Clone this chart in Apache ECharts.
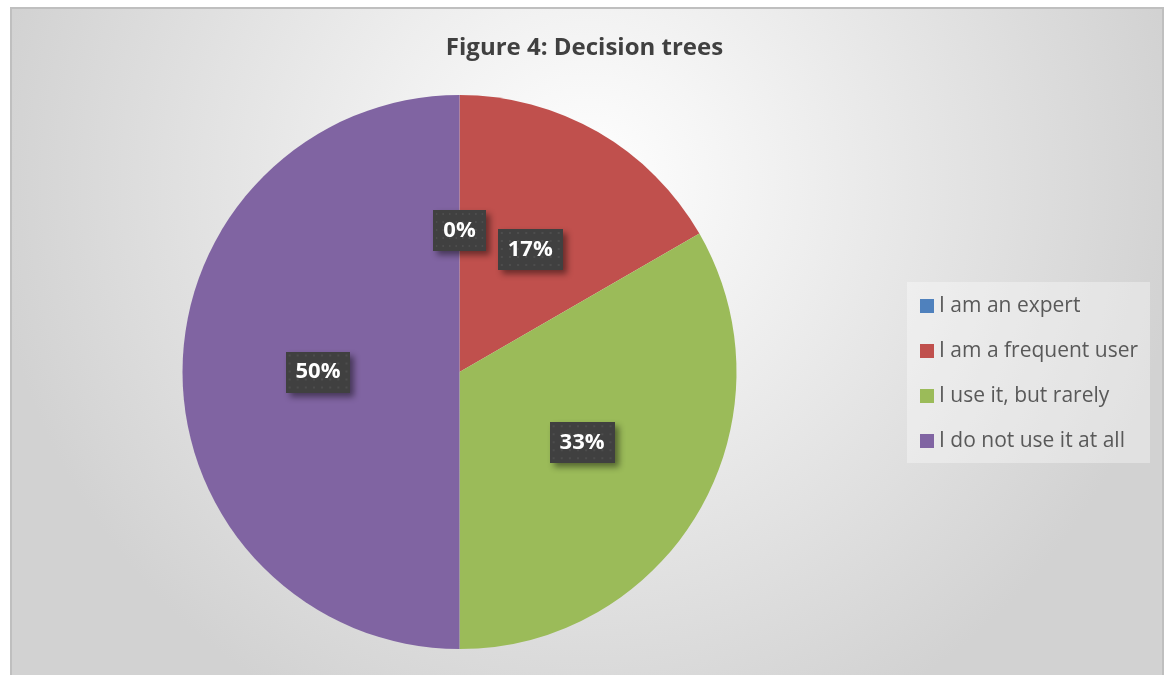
<!DOCTYPE html>
<html>
<head>
<meta charset="utf-8">
<script src="https://cdn.jsdelivr.net/npm/echarts@6/dist/echarts.min.js"></script>
<style>
  html, body { margin: 0; padding: 0; background: #fff; overflow: hidden; }
  #chart { width: 1169px; height: 675px; }
</style>
</head>
<body>
<div id="chart"></div>
<script>
// 饼图：Figure 4 Decision trees
const titleText = 'Figure 4: Decision trees'
const categories = ['I am an expert', 'I am a frequent user', 'I use it, but rarely', 'I do not use it at all']
const counts = [0, 1, 2, 3]
const colors = ['#4F81BD', '#C0504D', '#9BBB59', '#8064A2']

// 标签背景的小点纹理
const makeDots = () => {
  const c = document.createElement('canvas')
  c.width = 64
  c.height = 41
  const ctx = c.getContext('2d')
  ctx.fillStyle = '#404040'
  ctx.fillRect(0, 0, 64, 41)
  ctx.fillStyle = '#4d4d4d'
  for (let y = 3; y < 41; y += 8) {
    for (let x = 3; x < 64; x += 8) {
      ctx.fillRect(x, y, 2, 2)
    }
  }
  return c
}

const chart = echarts.init(document.getElementById('chart'))

const option = {
  animation: false,
  color: colors,
  graphic: [
    {
      type: 'rect',
      z: -10,
      silent: true,
      shape: { x: 11, y: 8, width: 1152, height: 700 },
      style: {
        fill: new echarts.graphic.RadialGradient(0.5, 0.25, 0.85, [
          { offset: 0, color: '#ffffff' },
          { offset: 1, color: '#d2d2d2' }
        ]),
        stroke: '#bfbfbf',
        lineWidth: 2
      }
    }
  ],
  title: {
    text: titleText,
    left: 'center',
    top: 31,
    textStyle: {
      fontFamily: 'Open Sans',
      fontSize: 24,
      fontWeight: 'bold',
      color: '#404040'
    }
  },
  legend: {
    orient: 'vertical',
    left: 907,
    top: 282,
    data: categories,
    icon: 'rect',
    itemWidth: 14,
    itemHeight: 14,
    itemGap: 21,
    itemTextGap: 6,
    padding: [12, 12, 10, 13],
    backgroundColor: 'rgba(255,255,255,0.35)',
    textStyle: {
      fontFamily: 'Open Sans',
      fontSize: 21,
      lineHeight: 24,
      color: '#595959'
    }
  },
  series: [
    {
      type: 'pie',
      center: [459.5, 372],
      radius: 277,
      startAngle: 90,
      clockwise: true,
      avoidLabelOverlap: false,
      itemStyle: { borderWidth: 0 },
      emphasis: { disabled: true },
      label: {
        position: 'inside',
        formatter: (p) => Math.round(p.percent) + '%',
        fontFamily: 'Open Sans',
        fontSize: 22,
        fontWeight: 'bold',
        color: '#ffffff',
        backgroundColor: { image: makeDots() },
        padding: [10, 10, 9, 10],
        shadowColor: 'rgba(0,0,0,0.45)',
        shadowBlur: 6,
        shadowOffsetX: 4,
        shadowOffsetY: 4
      },
      labelLine: { show: false },
      data: categories.map((name, i) => ({ name, value: counts[i] }))
    }
  ]
}

chart.setOption(option)
</script>
</body>
</html>
